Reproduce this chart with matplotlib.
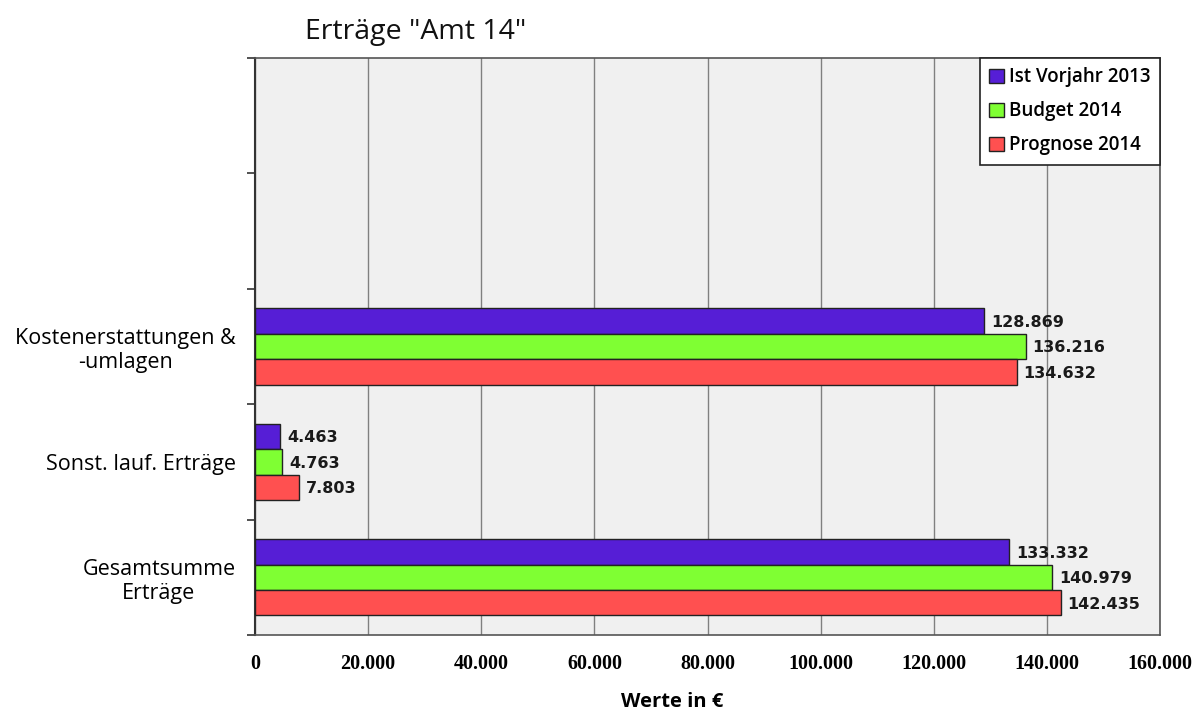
import matplotlib.pyplot as plt
import numpy as np
from matplotlib.ticker import FuncFormatter, FixedLocator

# Erträge Amt 14 – Werte in Euro
kategorien = ["Gesamtsumme\nErträge", "Sonst. lauf. Erträge", "Kostenerstattungen &\n-umlagen", "", ""]
ist_2013 = [133332, 4463, 128869]
budget_2014 = [140979, 4763, 136216]
prognose_2014 = [142435, 7803, 134632]

serien = [
    ("Ist Vorjahr 2013", ist_2013, "#561ed6"),
    ("Budget 2014", budget_2014, "#7fff33"),
    ("Prognose 2014", prognose_2014, "#ff5050"),
]


def de_format(v, pos=None):
    return f"{v:,.0f}".replace(",", ".")


fig = plt.figure(figsize=(12, 7.14), dpi=100)
ax = fig.add_axes([0.2125, 0.1106, 0.7542, 0.8082])
ax.set_facecolor("#f0f0f0")

bar_h = 0.22
y = np.arange(len(ist_2013))
for i, (name, werte, farbe) in enumerate(serien):
    pos = y + bar_h * (1 - i)
    ax.barh(pos, werte, height=bar_h, color=farbe, edgecolor="#222222",
            linewidth=1.0, label=name, zorder=3)
    for p, w in zip(pos, werte):
        ax.annotate(de_format(w), (w, p), xytext=(5, -1), textcoords="offset points",
                    va="center", ha="left", fontsize=11.5, fontweight="bold",
                    family="DejaVu Sans", color="#1a1a1a", zorder=4)

ax.set_xlim(0, 160000)
ax.set_ylim(-0.5, 4.5)
ax.set_xticks(np.arange(0, 160001, 20000))
ax.xaxis.set_major_formatter(FuncFormatter(de_format))
ax.grid(axis="x", color="#808080", linewidth=1.0, zorder=1)

ax.set_yticks(range(len(kategorien)))
ax.set_yticklabels(kategorien, fontsize=15.5, family="Open Sans", multialignment="center")
ax.yaxis.set_minor_locator(FixedLocator(np.arange(-0.5, 4.6, 1)))
ax.tick_params(axis="y", which="major", length=0, pad=14)
ax.tick_params(axis="y", which="minor", length=6, width=1.2, color="#333333")
ax.tick_params(axis="x", length=0, pad=14, labelsize=14.5)
for lab in ax.get_xticklabels():
    lab.set_fontfamily("Liberation Serif")
    lab.set_fontweight("bold")

for side in ["top", "right", "bottom"]:
    ax.spines[side].set_color("#555555")
    ax.spines[side].set_linewidth(1.2)
ax.spines["left"].set_color("#333333")
ax.spines["left"].set_linewidth(1.5)

ax.set_xlabel("Werte in €", fontsize=14.5, fontweight="bold", family="Open Sans")
ax.xaxis.set_label_coords(0.461, -0.098)

leg = ax.legend(loc="upper right", frameon=True, fancybox=False,
                edgecolor="#222222", framealpha=1, borderaxespad=0,
                handlelength=0.75, handleheight=0.75, handletextpad=0.3,
                labelspacing=0.75, borderpad=0.5,
                prop={"family": "Open Sans", "size": 13.5, "weight": "semibold"})
leg.get_frame().set_linewidth(1.2)

fig.text(0.254, 0.955, 'Erträge "Amt 14"', fontsize=20.5, family="Open Sans",
         ha="left", va="center", color="#111111")

fig.savefig("out.png", dpi=100, facecolor="white")
